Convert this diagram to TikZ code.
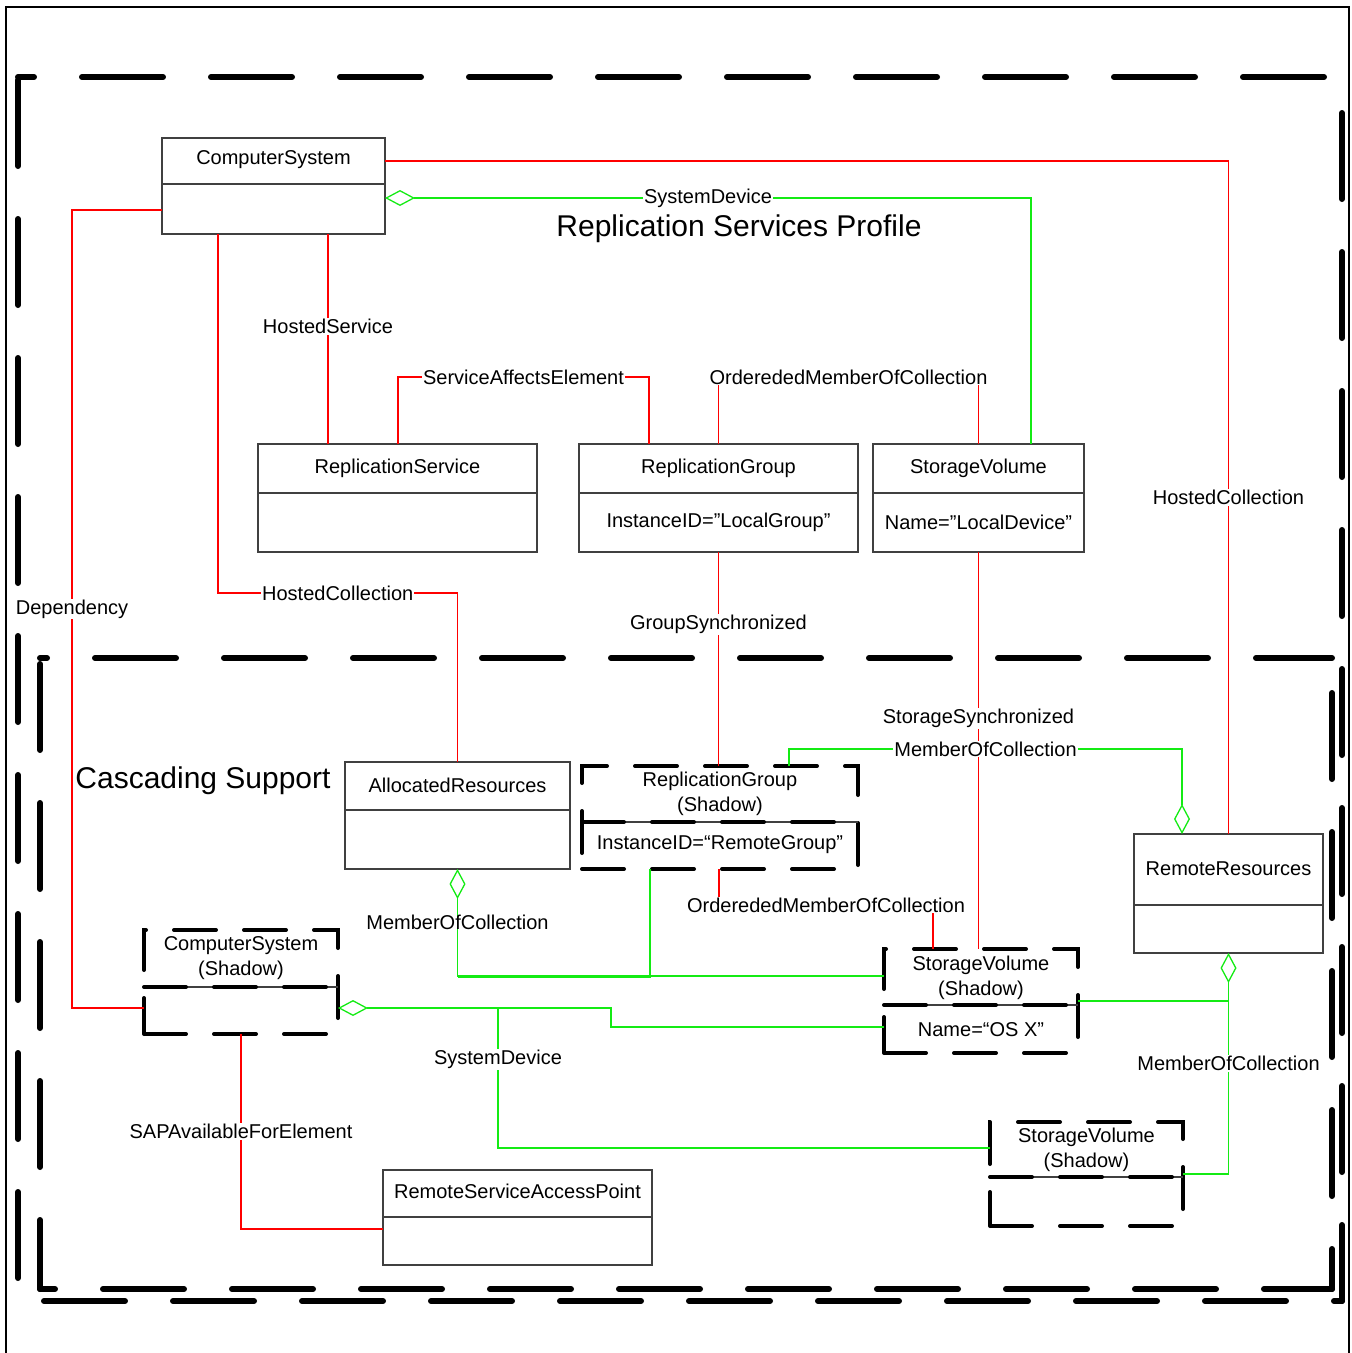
\documentclass[tikz,border=0pt]{standalone}
\usepackage{fontspec}
\setmainfont{Liberation Sans}
\usetikzlibrary{arrows.meta,calc}
\definecolor{assocred}{RGB}{255,0,0}
\definecolor{aggrgreen}{RGB}{20,235,20}

\tikzset{
  classbox/.style={draw=black!75, line width=1.2pt, inner sep=0pt, outer sep=0pt},
  shadowbox/.style={draw=black, line width=4pt, dash pattern=on 42pt off 28pt, line cap=round, inner sep=0pt, outer sep=0pt},
  divider/.style={draw=black!75, line width=1.2pt},
  shadowdiv/.style={draw=black, line width=4pt, dash pattern=on 42pt off 28pt, line cap=round},
  assoc/.style={draw=assocred, line width=1.3pt},
  aggr/.style={draw=aggrgreen, line width=1.3pt},
  agg/.tip={Diamond[open, length=30pt, width=16pt]},
  lbl/.style={fill=white, inner sep=1pt},
  frame/.style={line width=6pt, line cap=round},
  hdash/.style={dash pattern=on 81pt off 48pt},
  vdash/.style={dash pattern=on 86pt off 53pt}
}

\begin{document}
\begin{tikzpicture}[x=1pt,y=-1pt,font=\fontsize{20}{25}\selectfont]
\useasboundingbox (0,0) rectangle (1352,1353);

% Nodes
\node[classbox, minimum width=223pt, minimum height=96pt] (CS) at (273.5,186) {};
\node[classbox, minimum width=279pt, minimum height=108pt] (RS) at (397.5,498) {};
\node[classbox, minimum width=279pt, minimum height=108pt] (RG) at (718.5,498) {};
\node[classbox, minimum width=211pt, minimum height=108pt] (SV) at (978.5,498) {};
\node[classbox, minimum width=225pt, minimum height=107pt] (AR) at (457.5,815.5) {};
\node[classbox, minimum width=189pt, minimum height=119pt] (RR) at (1228.5,893.5) {};
\node[classbox, minimum width=269pt, minimum height=95pt] (RSAP) at (517.5,1217.5) {};

\node[shadowbox, minimum width=276pt, minimum height=103pt] (RGs) at (720,817.5) {};
\node[shadowbox, minimum width=194pt, minimum height=104pt] (CSs) at (241,982) {};
\node[shadowbox, minimum width=194pt, minimum height=104pt] (SVs) at (981,1001) {};
\node[shadowbox, minimum width=193pt, minimum height=104pt] (SVs2) at (1086.5,1174) {};

% Compartments
\draw[divider] (CS.west |- 0,184) -- (CS.east |- 0,184);
\draw[divider] (RS.west |- 0,493) -- (RS.east |- 0,493);
\draw[divider] (RG.west |- 0,493) -- (RG.east |- 0,493);
\draw[divider] (SV.west |- 0,493) -- (SV.east |- 0,493);
\draw[divider] (AR.west |- 0,810) -- (AR.east |- 0,810);
\draw[divider] (RR.west |- 0,905) -- (RR.east |- 0,905);
\draw[divider] (RSAP.west |- 0,1217) -- (RSAP.east |- 0,1217);

\draw[divider] (RGs.west |- 0,822) -- (RGs.east |- 0,822);
\draw[shadowdiv] (RGs.west |- 0,822) -- (RGs.east |- 0,822);
\draw[divider] (CSs.west |- 0,987) -- (CSs.east |- 0,987);
\draw[shadowdiv] (CSs.west |- 0,987) -- (CSs.east |- 0,987);
\draw[divider] (SVs.west |- 0,1005) -- (SVs.east |- 0,1005);
\draw[shadowdiv] (SVs.west |- 0,1005) -- (SVs.east |- 0,1005);
\draw[divider] (SVs2.west |- 0,1177) -- (SVs2.east |- 0,1177);
\draw[shadowdiv] (SVs2.west |- 0,1177) -- (SVs2.east |- 0,1177);

% Texts
\node (CSname) at (273.5,160) {ComputerSystem};
\node (RSname) at (397.5,468) {ReplicationService};
\node (RGname) at (718.5,468) {ReplicationGroup};
\node (RGattr) at (718.5,522) {InstanceID=”LocalGroup”};
\node (SVname) at (978.5,468) {StorageVolume};
\node (SVattr) at (978.5,522) {Name=”LocalDevice”};
\node (ARname) at (457.5,785) {AllocatedResources};
\node (RRname) at (1228.5,869) {RemoteResources};
\node (RSAPname) at (517.5,1191) {RemoteServiceAccessPoint};

\node[align=center] (RGsname) at (720,794) {ReplicationGroup\\(Shadow)};
\node (RGsattr) at (720,845) {InstanceID=“RemoteGroup”};
\node[align=center] (CSsname) at (241,958) {ComputerSystem\\(Shadow)};
\node[align=center] (SVsname) at (981,977.5) {StorageVolume\\(Shadow)};
\node (SVsattr) at (981,1029.5) {Name=“OS X”};
\node[align=center] (SVs2name) at (1086.5,1149.5) {StorageVolume\\(Shadow)};

\node[font=\fontsize{30}{36}\selectfont] (title) at (739,229) {Replication Services Profile};
\node[font=\fontsize{30}{36}\selectfont] (cascade) at (203,781) {Cascading Support};

% Edges
\draw[assoc] ($(CS.north east)+(0,23)$) -| (RR.north) node[lbl, pos=0.75] {HostedCollection};
\draw[assoc] ($(CS.west)+(0,24)$) -| ($(CSs.west)+(-72,26)$) node[lbl, pos=0.75] {Dependency} -- ($(CSs.west)+(0,26)$);
\draw[assoc] ($(CS.south west)+(166,0)$) -- ($(RS.north west)+(70,0)$) node[lbl, pos=0.44] {HostedService};
\draw[assoc] ($(CS.south west)+(56,0)$) |- ($(AR.north)+(0,-169)$) node[lbl, pos=0.75] {HostedCollection} -- (AR.north);
\draw[assoc] ($(RS.north west)+(140,0)$) -- ++(0,-67) -| ($(RG.north west)+(70,0)$) node[lbl, pos=0.25] {ServiceAffectsElement};
\draw[assoc] (RG.north) -- ++(0,-67) -| (SV.north) node[lbl, pos=0.25] {OrderededMemberOfCollection};
\draw[assoc] (RG.south) -- (RG.south |- RGs.north) node[lbl, pos=0.34] {GroupSynchronized};
\draw[assoc] (SV.south) -- (SV.south |- SVs.north) node[lbl, pos=0.42] {StorageSynchronized};
\draw[assoc] ($(RGs.south)+(-1,0)$) -- ++(0,36) -| ($(SVs.north west)+(49,0)$) node[lbl, pos=0.25] {OrderededMemberOfCollection};
\draw[assoc] (CSs.south) |- ($(RSAP.west)+(0,11.5)$) node[lbl, pos=0.25] {SAPAvailableForElement};

\draw[aggr, agg-] ($(CS.north east)+(0,60)$) -| ($(SV.north west)+(158,0)$) node[lbl, pos=0.25] {SystemDevice};
\draw[aggr, -agg] ($(RGs.north west)+(207,0)$) -- ++(0,-17) -| ($(RR.north west)+(48,0)$) node[lbl, pos=0.25] {MemberOfCollection};
\draw[aggr, agg-] (AR.south) |- ($(SVs.west)+(0,-25)$) node[inner sep=1pt, pos=0.25] {MemberOfCollection};
\draw[aggr] ($(RGs.south)+(-70,0)$) |- ($(AR.south)+(0,108)$);
\draw[aggr, agg-] ($(CSs.east)+(0,26)$) -- ++(273,0) |- ($(SVs.west)+(0,26)$);
\draw[aggr] ($(CSs.east)+(160,26)$) |- ($(SVs2.west)+(0,-26)$) node[lbl, pos=0.185] {SystemDevice};
\draw[aggr, agg-] (RR.south) |- (SVs2.east) node[lbl, pos=0.25] {MemberOfCollection};
\draw[aggr] (SVs.east) -- (SVs.east -| RR.south);

% Frames
\draw[line width=2pt] (6,1360) -- (6,7) -- (1349,7) -- (1349,1360);

\draw[frame, hdash, dash phase=65pt] (18,77) -- (1342,77);
\draw[frame, vdash, dash phase=103pt] (1342,77) -- (1342,1301);
\draw[frame, vdash, dash phase=136pt] (18,77) -- (18,1301);
\draw[frame, hdash, dash phase=103pt] (18,1301) -- (1342,1301);

\draw[frame, hdash, dash phase=74pt] (40,658) -- (1332,658);
\draw[frame, vdash, dash phase=133pt] (40,658) -- (40,1289);
\draw[frame, vdash, dash phase=104pt] (1332,658) -- (1332,1289);
\draw[frame, hdash, dash phase=66pt] (40,1289) -- (1332,1289);
\end{tikzpicture}
\end{document}
